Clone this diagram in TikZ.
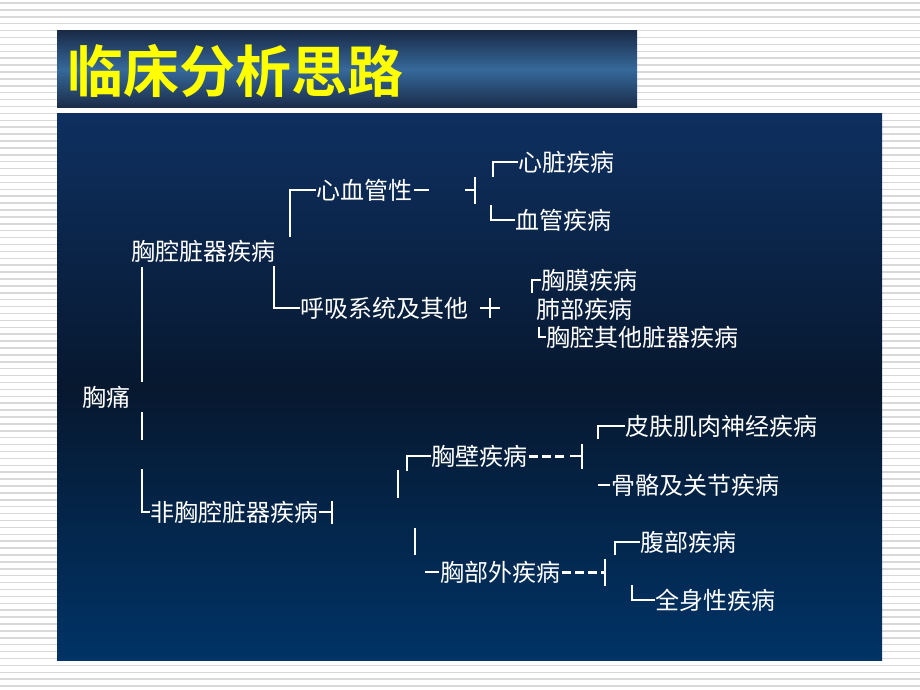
\documentclass[tikz,border=0pt]{standalone}
\usepackage{fontspec}
\newfontfamily\cjk[BoldFont={* Bold}]{Noto Sans CJK SC}
\definecolor{ptop}{HTML}{0E3060}
\definecolor{pmid}{HTML}{07182F}
\definecolor{pbot}{HTML}{003366}
\definecolor{ttop}{HTML}{1A2B48}
\definecolor{tmid}{HTML}{36699B}
\definecolor{ttlyellow}{HTML}{FFFF00}
\tikzset{
  lab/.style={anchor=west,inner sep=0pt,text=white,font=\cjk\fontsize{24}{28}\selectfont},
  br/.style={draw=white,line width=2pt},
  dsh/.style={draw=white,line width=3pt,dash pattern=on 9pt off 4pt},
  stripe/.style={draw=gray!30,line width=1.5pt}
}
\begin{document}
\begin{tikzpicture}[x=1pt,y=-1pt]
\useasboundingbox (0,0) rectangle (920,690);
\fill[white] (0,0) rectangle (920,690);
\foreach \yy in {3,9.9,...,690} \draw[stripe] (0,\yy) -- (920,\yy);
% title box
\shade[top color=ttop,bottom color=ttop,middle color=tmid] (57,31) rectangle (637,108);
\node (title) [anchor=west,inner sep=0pt,text=ttlyellow,font=\cjk\bfseries\fontsize{56}{60}\selectfont] at (67,71) {临床分析思路};
% panel
\shade[top color=ptop,bottom color=pbot,middle color=pmid] (57,114) rectangle (882,660);
% labels
\node[lab] (xzjb) at (518,162) {心脏疾病};
\node[lab] (xgjb) at (515,220) {血管疾病};
\node[lab] (xxg)  at (316,190) {心血管性};
\node[lab] (xqzq) at (131,251) {胸腔脏器疾病};
\node[lab] (hx)   at (300,308) {呼吸系统及其他};
\node[lab] (xm)   at (541,280) {胸膜疾病};
\node[lab] (fb)   at (536,309) {肺部疾病};
\node[lab] (qt)   at (546,337) {胸腔其他脏器疾病};
\node[lab] (xt)   at (82,397)  {胸痛};
\node[lab] (fx)   at (150,512) {非胸腔脏器疾病};
\node[lab] (xb)   at (431,456) {胸壁疾病};
\node[lab] (pf)   at (625,426) {皮肤肌肉神经疾病};
\node[lab] (gg)   at (611,485) {骨骼及关节疾病};
\node[lab] (xw)   at (440,572) {胸部外疾病};
\node[lab] (fbjb) at (640,542) {腹部疾病};
\node[lab] (qs)   at (655,600) {全身性疾病};
% junction coordinates
\coordinate (j1) at (475,190);
\coordinate (j2) at (490,308);
\coordinate (j3) at (332,512);
\coordinate (j4) at (582,456);
\coordinate (j5) at (605,572);
% upper branch
\draw[br] (xzjb.west) -- ++(-25,0) -- ++(0,15);
\draw[br] (xgjb.west) -- ++(-24,0) -- ++(0,-15);
\draw[br] (xxg.west) -- ++(-26,0) -- ++(0,47);
\draw[br] ([xshift=2pt]xxg.east) -- ++(15,0);
\draw[br] ([xshift=-10pt]j1) -- (j1);
\draw[br] ([yshift=-14pt]j1) -- ([yshift=13pt]j1);
\draw[br] (hx.west) -- ++(-26,0) -- ++(0,-42);
\draw[br] ([xshift=-10pt]j2) -- ([xshift=10pt]j2);
\draw[br] ([yshift=-10pt]j2) -- ([yshift=10pt]j2);
\draw[br] (xm.west) -- ++(-9,0) -- ++(0,13);
\draw[br] (qt.west) -- ++(-7,0) -- ++(0,-10);
% main trunk
\coordinate (t0) at (142,267);
\coordinate (t1) at (142,382);
\coordinate (t2) at (142,412);
\coordinate (t3) at (142,440);
\draw[br] (t0) -- (t1);
\draw[br] (t2) -- (t3);
\draw[br] (fx.west) -- ++(-8,0) -- ++(0,-43);
\draw[br] ([xshift=1pt]fx.east) -- (j3);
\draw[br] ([yshift=-12pt]j3) -- ([yshift=11pt]j3);
% lower branch
\draw[br] (xb.west) -- ++(-24,0) -- ++(0,15);
\draw[dsh] ([xshift=2pt]xb.east) -- ([xshift=-17pt]j4);
\draw[br] ([xshift=-12pt]j4) -- (j4);
\draw[br] ([yshift=-13pt]j4) -- ([yshift=12pt]j4);
\coordinate (v1) at (398,470);
\coordinate (v2) at (398,498);
\coordinate (v3) at (415,528);
\coordinate (v4) at (415,555);
\draw[br] (v1) -- (v2);
\draw[br] (v3) -- (v4);
\draw[br] (pf.west) -- ++(-27,0) -- ++(0,13);
\draw[br] ([xshift=-1pt]gg.west) -- ++(-12,0);
\draw[br] ([xshift=-1pt]xw.west) -- ++(-14,0);
\draw[dsh] ([xshift=2pt]xw.east) -- (j5);
\draw[br] ([yshift=-14pt]j5) -- ([yshift=13pt]j5);
\draw[br] (fbjb.west) -- ++(-25,0) -- ++(0,13);
\draw[br] (qs.west) -- ++(-23,0) -- ++(0,-15);
\end{tikzpicture}
\end{document}
